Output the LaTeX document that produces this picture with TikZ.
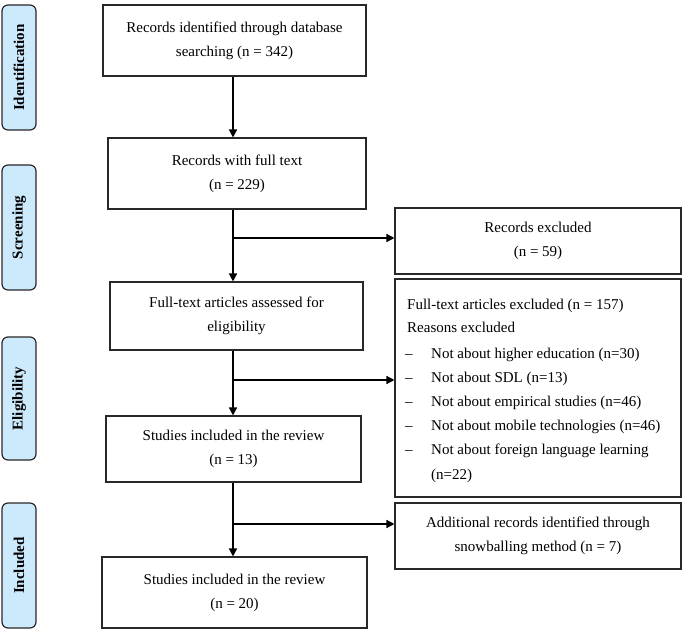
\documentclass[tikz,border=0pt]{standalone}
\usepackage{fontspec}
\setmainfont{Liberation Serif}
\usetikzlibrary{arrows.meta}
\definecolor{phase}{RGB}{205,233,252}
\definecolor{edge}{RGB}{40,40,40}
\begin{document}
\begin{tikzpicture}[x=1pt,y=-1pt,
  every node/.style={font=\fontsize{15}{24}\selectfont, inner sep=0pt},
  box/.style={draw=edge, line width=1.1pt, align=center},
  phasebox/.style={draw=edge, line width=1.2pt, fill=phase, rounded corners=6pt, rotate=90,
     minimum height=34pt, font=\fontsize{15}{18}\selectfont\bfseries},
  arr/.style={line width=1.4pt, -{Triangle[length=8pt,width=8pt]}},
  ln/.style={line width=1.4pt},
  item/.style={anchor=base west}
]
\useasboundingbox (0,0) rectangle (685,630);
% phase labels
\node[phasebox, minimum width=125pt] (pid) at (19,67.5) {Identification};
\node[phasebox, minimum width=125pt] (psc) at (19,227.5) {Screening};
\node[phasebox, minimum width=123pt] (pel) at (19,398.5) {Eligibility};
\node[phasebox, minimum width=125pt] (pin) at (19,565.5) {Included};
% main boxes
\node[box, minimum width=263pt, minimum height=71pt] (b1) at (234.5,40.5) {Records identified through database\\searching (n = 342)};
\node[box, minimum width=258pt, minimum height=71pt] (b2) at (237,173.5) {Records with full text\\(n = 229)};
\node[box, minimum width=253pt, minimum height=68pt] (b3) at (236.5,316) {Full-text articles assessed for\\eligibility};
\node[box, minimum width=255pt, minimum height=66pt] (b4) at (233.5,449) {Studies included in the review\\(n = 13)};
\node[box, minimum width=265pt, minimum height=71pt] (b5) at (234.5,592.5) {Studies included in the review\\(n = 20)};
% right boxes
\node[box, minimum width=286pt, minimum height=66pt] (r1) at (538,241) {Records excluded\\(n = 59)};
\node[box, minimum width=286pt, minimum height=218pt] (r2) at (538,388) {};
\node[box, minimum width=286pt, minimum height=66pt] (r3) at (538,536) {Additional records identified through\\snowballing method (n = 7)};
% r2 contents
\node[item] (t1) at (407,309) {Full-text articles excluded (n = 157)};
\node[item] (t2) at (407,332) {Reasons excluded};
\foreach \i/\y/\txt in {1/358/{Not about higher education (n=30)},
                         2/382/{Not about SDL (n=13)},
                         3/406/{Not about empirical studies (n=46)},
                         4/430/{Not about mobile technologies (n=46)},
                         5/454/{Not about foreign language learning}}{
  \node[item] (d\i) at (405,\y) {\textendash};
  \node[item] (l\i) at (431,\y) {\txt};
}
\node[item] (l6) at (431,479) {(n=22)};
% spine coordinates
\coordinate (sp) at (233,0);
\coordinate (j1) at (233,238);
\coordinate (j2) at (233,380);
\coordinate (j3) at (233,524);
% arrows
\draw[arr] (b1.south -| sp) -- (b2.north -| sp);
\draw[arr] (b2.south -| sp) -- (b3.north -| sp);
\draw[arr] (j1) -- (j1 -| r1.west);
\draw[arr] (b3.south -| sp) -- (b4.north -| sp);
\draw[arr] (j2) -- (j2 -| r2.west);
\draw[arr] (b4.south -| sp) -- (b5.north -| sp);
\draw[arr] (j3) -- (j3 -| r3.west);
\end{tikzpicture}
\end{document}
